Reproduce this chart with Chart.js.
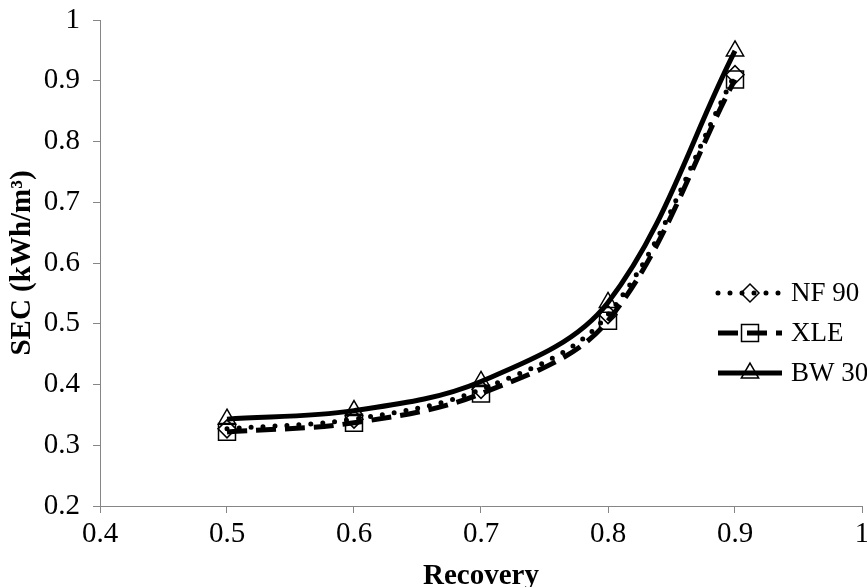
<!DOCTYPE html>
<html>
<head>
<meta charset="utf-8">
<script src="https://cdn.jsdelivr.net/npm/chart.js@4/dist/chart.umd.min.js"></script>
<style>
  html, body { margin: 0; padding: 0; background: #ffffff; overflow: hidden; }
  #wrap { position: relative; width: 867px; height: 587px; overflow: hidden; }
  #c { display: block; }
</style>
</head>
<body>
<div id="wrap"><canvas id="c" width="867" height="587"></canvas></div>
<script>
// ---- data ----
const recovery = [0.5, 0.6, 0.7, 0.8, 0.9];
const nf90 = [0.327, 0.343, 0.392, 0.515, 0.910];
const xle  = [0.322, 0.337, 0.385, 0.505, 0.902];
const bw30 = [0.343, 0.357, 0.405, 0.535, 0.949];
const seriesNames = ['NF 90', 'XLE', 'BW 30'];
const xTickLabels = ['0.4', '0.5', '0.6', '0.7', '0.8', '0.9', '1'];
const yTickLabels = ['0.2', '0.3', '0.4', '0.5', '0.6', '0.7', '0.8', '0.9', '1'];
const xTitle = 'Recovery';
const yTitle = 'SEC (kWh/m\u00B3)';

const FONT = "'Liberation Serif', 'Times New Roman', serif";
const AXIS_GREY = '#868686';

function pts(vals) { return recovery.map((x, i) => ({ x: x, y: vals[i] })); }

const datasets = [
  { label: seriesNames[0], data: pts(nf90), borderColor: '#000', borderWidth: 5,
    borderDash: [0, 12], borderCapStyle: 'round', pointStyle: 'rectRot', pointRadius: 9,
    order: 2 },
  { label: seriesNames[1], data: pts(xle), borderColor: '#000', borderWidth: 5,
    borderDash: [20, 9], borderCapStyle: 'butt', pointStyle: 'rect', pointRadius: 12,
    order: 1 },
  { label: seriesNames[2], data: pts(bw30), borderColor: '#000', borderWidth: 5,
    borderDash: [], borderCapStyle: 'butt', pointStyle: 'triangle', pointRadius: 10,
    order: 0 }
].map(d => Object.assign({
  showLine: true, fill: false, tension: 0.35,
  pointBorderColor: '#000', pointBackgroundColor: 'rgba(0,0,0,0)',
  pointBorderWidth: 1.5
}, d, { pointHoverRadius: d.pointRadius }));

// legend drawn Excel-style: line sample with marker in the middle
const excelLegend = {
  id: 'excelLegend',
  afterDraw(chart) {
    const ctx = chart.ctx;
    const x0 = 718, x1 = 782, xm = 750, y0 = 293, dy = 40, tx = 791;
    chart.data.datasets.forEach((ds, i) => {
      const y = y0 + i * dy;
      ctx.save();
      ctx.strokeStyle = ds.borderColor;
      ctx.lineWidth = ds.borderWidth;
      ctx.setLineDash(ds.borderDash || []);
      ctx.lineCap = ds.borderCapStyle || 'butt';
      ctx.beginPath(); ctx.moveTo(x0, y); ctx.lineTo(x1, y); ctx.stroke();
      ctx.setLineDash([]);
      ctx.lineCap = 'butt';
      ctx.fillStyle = 'rgba(0,0,0,0)';
      ctx.strokeStyle = '#000';
      ctx.lineWidth = ds.pointBorderWidth;
      Chart.helpers.drawPoint(ctx, { pointStyle: ds.pointStyle, radius: ds.pointRadius,
        borderWidth: ds.pointBorderWidth, rotation: 0 }, xm, y);
      ctx.fillStyle = '#000';
      ctx.font = "27px " + FONT;
      ctx.textBaseline = 'middle';
      ctx.textAlign = 'left';
      ctx.fillText(ds.label, tx, y + 1);
      ctx.restore();
    });
  }
};

new Chart(document.getElementById('c'), {
  type: 'scatter',
  data: { datasets: datasets },
  plugins: [excelLegend],
  options: {
    responsive: false,
    animation: false,
    events: [],
    layout: { autoPadding: false, padding: { top: 20, right: 5, left: 0, bottom: 0 } },
    plugins: { legend: { display: false }, tooltip: { enabled: false } },
    scales: {
      x: {
        type: 'linear', min: 0.4, max: 1,
        afterFit: s => { s.height = 81; s.paddingLeft = 0; s.paddingRight = 0; },
        border: { display: true, color: AXIS_GREY, width: 1 },
        grid: { display: true, drawOnChartArea: false, drawTicks: true, tickLength: 7, color: AXIS_GREY },
        ticks: { stepSize: 0.1, color: '#000', font: { family: FONT, size: 29 }, padding: 4,
          maxRotation: 0, autoSkip: false,
          callback: (v) => xTickLabels[Math.round((v - 0.4) * 10)] },
        title: { display: true, text: xTitle, color: '#000',
          font: { family: FONT, size: 29, weight: 'bold', lineHeight: 0.7 }, padding: { top: 0, bottom: 0 } }
      },
      y: {
        type: 'linear', min: 0.2, max: 1,
        afterFit: s => { s.width = 100; s.paddingTop = 0; s.paddingBottom = 0; },
        border: { display: true, color: AXIS_GREY, width: 1 },
        grid: { display: true, drawOnChartArea: false, drawTicks: true, tickLength: 7, color: AXIS_GREY },
        ticks: { stepSize: 0.1, color: '#000', font: { family: FONT, size: 29 }, padding: 13,
          autoSkip: false,
          callback: (v) => yTickLabels[Math.round((v - 0.2) * 10)] },
        title: { display: true, text: yTitle, color: '#000',
          font: { family: FONT, size: 29, weight: 'bold', lineHeight: 1.2 }, padding: { top: 5, bottom: 0 } }
      }
    }
  }
});
</script>
</body>
</html>
